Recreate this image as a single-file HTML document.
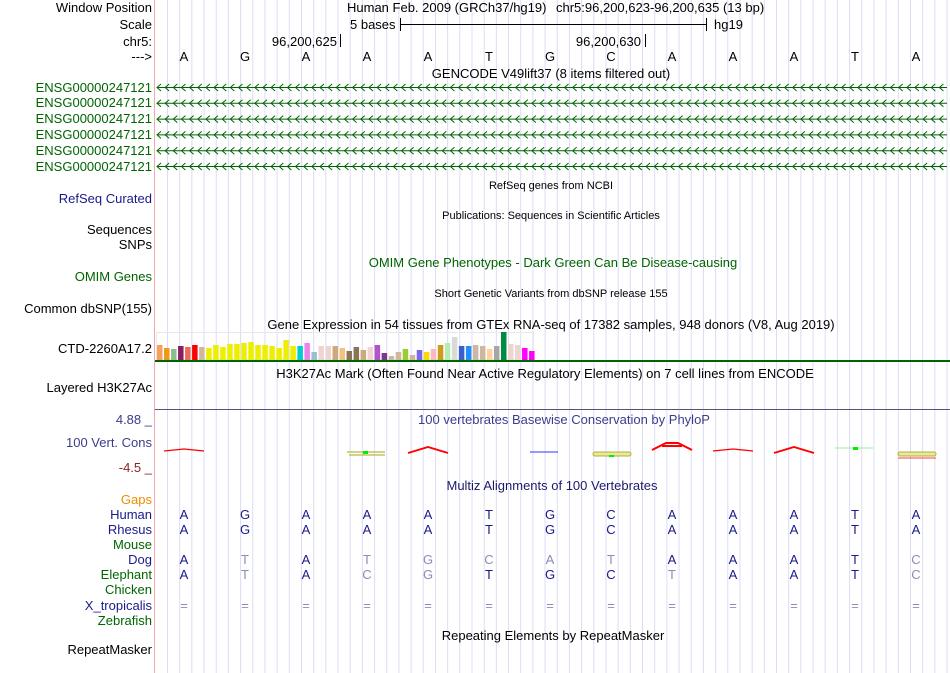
<!DOCTYPE html>
<html><head><meta charset="utf-8"><style>
body{margin:0;background:#fff;width:950px;height:673px;overflow:hidden}
svg{display:block;font-family:"Liberation Sans",sans-serif}
</style></head><body>
<svg id="c" width="950" height="673" xmlns="http://www.w3.org/2000/svg">
<g id="grid"></g>
<line x1="154.5" y1="0" x2="154.5" y2="673" stroke="#f4a8a8"/>
<g id="labels" font-size="13" text-anchor="end"></g>
<g id="body" font-size="13"></g>
</svg>
<script>
const bases=['A','G','A','A','A','T','G','C','A','A','A','T','A'];
const dogSeq=['A','T','A','T','G','C','A','T','A','A','A','T','C'];
const dogMatch=[1,0,1,0,0,0,0,0,1,1,1,1,0];
const elSeq=['A','T','A','C','G','T','G','C','T','A','A','T','C'];
const elMatch=[1,0,1,0,0,1,1,1,0,1,1,1,0];
const gtexValues=[15,12,11,14,13,15,13,12,15,13,16,16,17,18,15,15,14,12,20,14,14,17,8,14,14,14,12,9,13,10,13,15,7,4,8,11,5,10,8,11,15,17,23,14,14,15,14,11,14,28,16,15,12,9];
const gtexColors=['#f7a05c','#ef9a17','#8fbc8f','#8b1c62','#ee6a50','#ff0000','#cdb79e','#eeee00','#eeee00','#eeee00','#eeee00','#eeee00','#eeee00','#eeee00','#eeee00','#eeee00','#eeee00','#eeee00','#eeee00','#eeee00','#00cdcd','#ee82ee','#9ac0cd','#eed5d2','#eed5d2','#cdaa7d','#f4c27d','#8b7355','#8b7355','#cdaa7d','#eed5d2','#b452cd','#7a378b','#cdb79e','#cdb79e','#9acd32','#cdb79e','#7a67ee','#ffd700','#ffb6c1','#cd9b1d','#b4eeb4','#d9d9d9','#3a5fcd','#1e90ff','#cdb79e','#cdb79e','#ffd39b','#a6a6a6','#008b45','#eed5d2','#eed5d2','#ff00ff','#ff00ff'];
const NS='http://www.w3.org/2000/svg';
function el(t,a,p){const e=document.createElementNS(NS,t);for(const k in a)e.setAttribute(k,a[k]);(p||document.getElementById('body')).appendChild(e);return e;}
function txt(x,y,s,fill,anchor,size,p){const e=el('text',{x:x,y:y,fill:fill||'#000','text-anchor':anchor||'start','font-size':size||13},p);e.textContent=s;return e;}
const bx=i=>184+i*61.0;
const g=document.getElementById('grid');
for(let i=0;i<65;i++){const x=167.5+i*12.18;const l=el('line',{x1:x,y1:0,x2:x,y2:673,stroke:'#dcdcf8'},g);

}
const L=document.getElementById('labels');
const labs=[['Window Position',12,'#000'],['Scale',29,'#000'],['chr5:',46,'#000'],['--->',61,'#000'],
['ENSG00000247121',92,'#006400'],['ENSG00000247121',107,'#006400'],['ENSG00000247121',123,'#006400'],['ENSG00000247121',139,'#006400'],['ENSG00000247121',155,'#006400'],['ENSG00000247121',171,'#006400'],
['RefSeq Curated',203,'#1a1a8a'],['Sequences',234,'#000'],['SNPs',249,'#000'],['OMIM Genes',281,'#006400'],['Common dbSNP(155)',313,'#000'],['CTD-2260A17.2',353,'#000'],['Layered H3K27Ac',392,'#000'],
['4.88 _',424,'#3c3c8c'],['100 Vert. Cons',447,'#3c3c8c'],['-4.5 _',472,'#8b2323'],
['Gaps',504,'#ef8c00'],['Human',519,'#1a1a8a'],['Rhesus',534,'#1a1a8a'],['Mouse',549,'#006400'],['Dog',564,'#1a1a8a'],['Elephant',579,'#006400'],['Chicken',594,'#006400'],['X_tropicalis',610,'#1a1a8a'],['Zebrafish',625,'#006400'],['RepeatMasker',654,'#000']];
labs.forEach(a=>{const t=txt(152,a[1],a[0],a[2],'end',13,L);

});
txt(347,12,'Human Feb. 2009 (GRCh37/hg19)','#000');
txt(556,12,'chr5:96,200,623-96,200,635 (13 bp)','#000');
txt(350,29,'5 bases');
el('line',{x1:400,y1:24.5,x2:706,y2:24.5,stroke:'#000'});
el('line',{x1:400.5,y1:18,x2:400.5,y2:31,stroke:'#000'});
el('line',{x1:706.5,y1:18,x2:706.5,y2:31,stroke:'#000'});
txt(714,29,'hg19');
txt(337,46,'96,200,625','#000','end');
el('line',{x1:340.5,y1:34,x2:340.5,y2:47,stroke:'#000'});
txt(641,46,'96,200,630','#000','end');
el('line',{x1:645.5,y1:34,x2:645.5,y2:47,stroke:'#000'});
bases.forEach((b,i)=>{const t=txt(bx(i),61,b,'#000','middle');

});
txt(551,78,'GENCODE V49lift37 (8 items filtered out)','#000','middle');
for(let r=0;r<6;r++){const y=87.5+r*15.8;
const gl=el('line',{x1:157,y1:y,x2:947,y2:y,stroke:'#006400'});


let d='';for(let x=157;x<944;x+=8.15){d+=`M${x+4},${y-3.5}L${x},${y}L${x+4},${y+3.5}`;}
el('path',{d:d,stroke:'#006400',fill:'none','stroke-width':1});}
txt(551,189,'RefSeq genes from NCBI','#000','middle',11);
txt(551,219,'Publications: Sequences in Scientific Articles','#000','middle',11);
txt(553,267,'OMIM Gene Phenotypes - Dark Green Can Be Disease-causing','#006400','middle',13);
txt(551,297,'Short Genetic Variants from dbSNP release 155','#000','middle',11);
txt(551,329,'Gene Expression in 54 tissues from GTEx RNA-seq of 17382 samples, 948 donors (V8, Aug 2019)','#000','middle',13);
el('rect',{x:156.5,y:332.5,width:377,height:27,fill:'none',stroke:'#e8e8e8'});
const yS=v=>360-v;
gtexValues.forEach((v,i)=>{const r=el('rect',{x:157+i*7.02,y:yS(v),width:5.5,height:v,fill:gtexColors[i]});

});
el('rect',{x:155,y:360,width:795,height:2,fill:'#006400'});
txt(545,378,'H3K27Ac Mark (Often Found Near Active Regulatory Elements) on 7 cell lines from ENCODE','#000','middle');
el('line',{x1:155,y1:409.5,x2:950,y2:409.5,stroke:'#5a5070'});
txt(564,424,'100 vertebrates Basewise Conservation by PhyloP','#3c3c8c','middle');
const ph=[[0,'flat','#ff0000'],[3,'olive','#00ee00'],[4,'arch','#ff0000'],[6,'line','#3333ff'],[7,'oval','#00ee00'],[8,'big','#ff0000'],[9,'flat','#ff0000'],[10,'arch','#ff0000'],[11,'line2','#00ee00'],[12,'oval2','#ff0000']];
ph.forEach(p=>{const c=bx(p[0]);let s;
if(p[1]=='flat')s=el('path',{d:`M${c-20},451L${c},449L${c+20},451`,stroke:p[2],fill:'none','stroke-width':1.3});
else if(p[1]=='arch')s=el('path',{d:`M${c-20},453L${c},447L${c+20},453`,stroke:p[2],fill:'none','stroke-width':1.8});
else if(p[1]=='big')s=el('path',{d:`M${c-20},450L${c-6},443L${c+6},443L${c+20},450M${c-10},446L${c+10},446`,stroke:p[2],fill:'none','stroke-width':2});
else if(p[1]=='line')s=el('line',{x1:c-20,y1:452,x2:c+8,y2:452,stroke:p[2]});
else if(p[1]=='line2'){s=el('line',{x1:c-20,y1:448,x2:c+18,y2:448,stroke:'#99ee99'});el('rect',{x:c-2,y:447,width:5,height:3,fill:'#00ee00'});}
else if(p[1]=='olive'){s=el('path',{d:`M${c-20},452L${c+18},452M${c-18},455L${c+18},455`,stroke:'#b8b840',fill:'none','stroke-width':1.3});el('rect',{x:c-4,y:451,width:5,height:3,fill:'#00ee00'});}
else{s=el('rect',{x:c-18,y:452,width:38,height:4,rx:2,fill:'#e8e8a0',stroke:'#b0b030'});
if(p[1]=='oval')el('rect',{x:c-2,y:455,width:5,height:2,fill:'#00ee00'});else el('line',{x1:c-18,y1:458,x2:c+20,y2:458,stroke:'#ff4040'});}

});
txt(552,490,'Multiz Alignments of 100 Vertebrates','#1a1a6a','middle');
const dark='#1a1a8a',light='#8c8cb4';
bases.forEach((b,i)=>{
[519,534].forEach(y=>{const t=txt(bx(i),y,b,dark,'middle');

});
const d=txt(bx(i),564,dogSeq[i],dogMatch[i]?dark:light,'middle');


const e=txt(bx(i),579,elSeq[i],elMatch[i]?dark:light,'middle');


const q=txt(bx(i),610,'=',light,'middle');

});
txt(553,640,'Repeating Elements by RepeatMasker','#000','middle');
</script>
</body></html>
